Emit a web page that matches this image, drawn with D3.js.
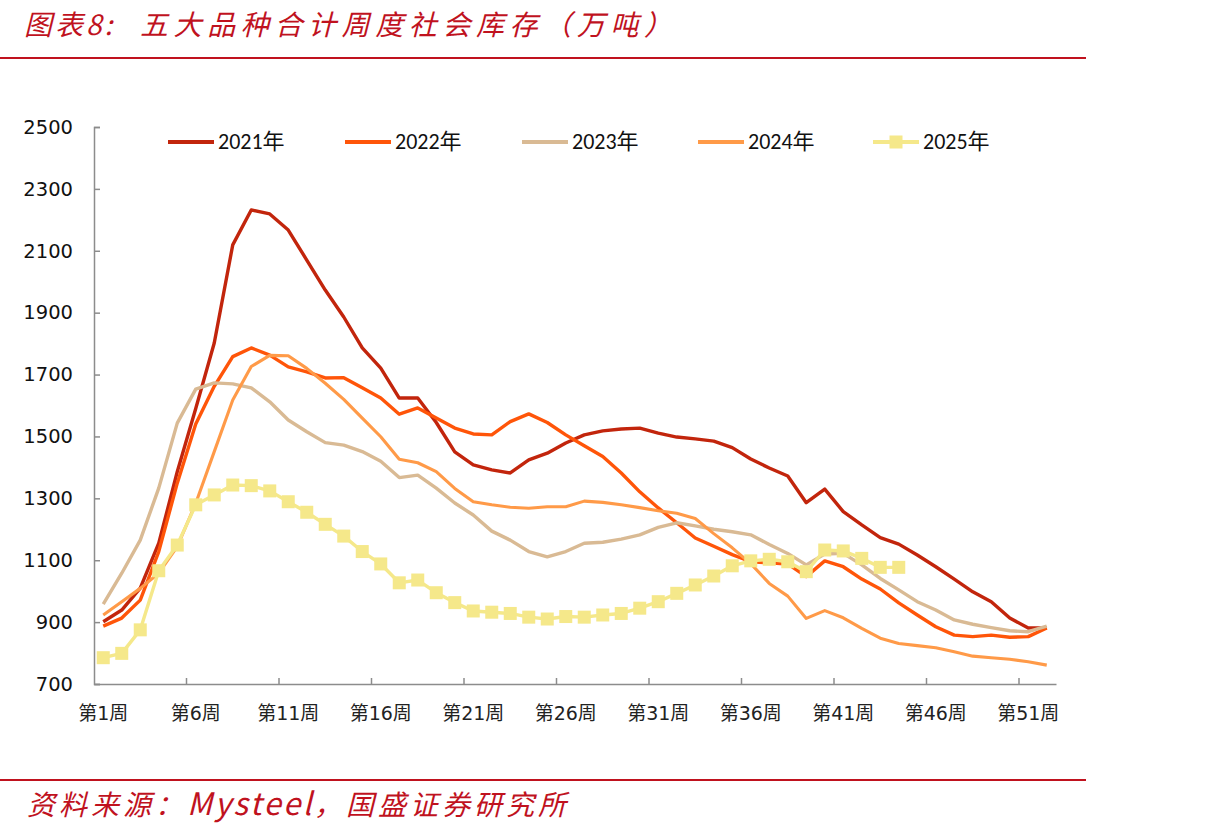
<!DOCTYPE html>
<html>
<head>
<meta charset="utf-8">
<script src="https://cdn.jsdelivr.net/npm/d3@7"></script>
<style>
  html, body { margin: 0; padding: 0; background: #fff; }
  svg { display: block; }
</style>
</head>
<body>
<svg id="chart" width="1205" height="835"></svg>
<script>
const weeks = [1,2,3,4,5,6,7,8,9,10,11,12,13,14,15,16,17,18,19,20,21,22,23,24,25,26,27,28,29,30,31,32,33,34,35,36,37,38,39,40,41,42,43,44,45,46,47,48,49,50,51,52];
const xTickWeeks = [1,6,11,16,21,26,31,36,41,46,51];
const xTickLabels = ["第1周","第6周","第11周","第16周","第21周","第26周","第31周","第36周","第41周","第46周","第51周"];
const yTicks = [700,900,1100,1300,1500,1700,1900,2100,2300,2500];
const seriesNames = ["2021年","2022年","2023年","2024年","2025年"];

const s2021 = [901,939,1010,1155,1386,1590,1802,2119,2232,2219,2167,2070,1973,1886,1786,1721,1624,1624,1545,1450,1408,1392,1382,1424,1446,1479,1505,1518,1524,1527,1511,1498,1492,1485,1464,1427,1398,1372,1286,1330,1257,1214,1173,1152,1117,1079,1039,998,966,913,881,881];
const s2022 = [887,913,971,1128,1349,1540,1662,1758,1786,1763,1725,1709,1689,1690,1657,1624,1572,1592,1560,1527,1508,1505,1548,1573,1545,1505,1470,1435,1382,1321,1269,1221,1172,1145,1118,1095,1092,1088,1047,1098,1079,1039,1007,962,923,885,858,853,858,851,853,881];
const s2023 = [958,1058,1165,1333,1543,1653,1673,1670,1657,1612,1553,1515,1480,1472,1451,1420,1367,1375,1333,1285,1246,1194,1165,1128,1111,1128,1155,1158,1168,1182,1206,1221,1211,1200,1192,1182,1151,1122,1085,1120,1122,1085,1041,1004,966,939,907,893,882,872,869,887];
const s2024 = [923,966,1009,1058,1144,1284,1451,1618,1726,1762,1761,1720,1672,1620,1559,1499,1426,1415,1386,1332,1289,1279,1271,1268,1273,1273,1291,1287,1279,1270,1260,1252,1235,1186,1140,1089,1025,984,912,937,914,880,848,831,824,817,804,790,785,780,772,761];
const s2025 = [785,799,875,1066,1149,1279,1311,1343,1341,1324,1289,1255,1216,1178,1128,1088,1027,1036,995,963,936,932,928,916,910,918,916,923,928,945,966,993,1020,1049,1082,1098,1103,1095,1063,1133,1130,1106,1077,1077];

const colors = ["#C2250C","#FF5509","#D9BA94","#FF9A48","#F5E88A"];
const allSeries = [s2021, s2022, s2023, s2024, s2025];

const svg = d3.select("#chart");
const red = "#C0121E";

// Title
const title = svg.append("text")
  .attr("y", 35)
  .attr("fill", red)
  .attr("font-family", "'Noto Sans CJK SC', sans-serif")
  .attr("font-style", "italic")
  .attr("font-size", 28);
title.append("tspan").attr("x", 24).attr("letter-spacing", 3).text("图表8:");
title.append("tspan").attr("x", 140).attr("letter-spacing", 5.6).text("五大品种合计周度社会库存（万吨）");

svg.append("rect").attr("x", 0).attr("y", 57).attr("width", 1086).attr("height", 2).attr("fill", red);
svg.append("rect").attr("x", 0).attr("y", 779).attr("width", 1086).attr("height", 2).attr("fill", red);

const src = svg.append("text")
  .attr("x", 27).attr("y", 815)
  .attr("fill", red)
  .attr("font-family", "'Noto Sans CJK SC', sans-serif")
  .attr("font-style", "italic")
  .attr("font-size", 28);
src.append("tspan").attr("letter-spacing", 4).text("资料来源：");
src.append("tspan").attr("font-size", 31).attr("letter-spacing", 2.5).text("Mysteel");
src.append("tspan").attr("letter-spacing", 4).text("，国盛证券研究所");

// Scales
const x = d3.scaleBand().domain(weeks).range([94, 1056]).paddingInner(0).paddingOuter(0);
const bw = x.bandwidth();
const y = d3.scaleLinear().domain([700, 2500]).range([684, 127]);
const cx = w => x(w) + bw / 2;

const axisColor = "#8c8c8c";

// Y axis
const yAxis = svg.append("g").attr("transform", "translate(94,0)")
  .call(d3.axisLeft(y).tickValues(yTicks).tickSize(-6).tickPadding(21).tickFormat(d3.format("d")));
yAxis.select(".domain").attr("stroke", axisColor).attr("stroke-width", 1.5);
yAxis.selectAll(".tick line").attr("stroke", axisColor).attr("stroke-width", 1.5);
yAxis.selectAll(".tick text")
  .attr("font-family", "'DejaVu Sans', Verdana, sans-serif")
  .attr("font-size", 19.5).attr("fill", "#111");

// X axis labels
const xAxis = svg.append("g").attr("transform", "translate(0,684)")
  .call(d3.axisBottom(x).tickValues(xTickWeeks).tickSize(0).tickPadding(23)
    .tickFormat((d, i) => xTickLabels[i]));
xAxis.select(".domain").attr("stroke", axisColor).attr("stroke-width", 1.5);
xAxis.selectAll(".tick text")
  .attr("font-family", "'DejaVu Sans', 'Noto Sans CJK SC', sans-serif")
  .attr("font-size", 19).attr("fill", "#222");

// X tick marks at category boundaries every 5 weeks (inward)
const boundaryWeeks = [6,11,16,21,26,31,36,41,46,51];
svg.append("g").selectAll("line").data(boundaryWeeks).join("line")
  .attr("x1", d => x(d)).attr("x2", d => x(d))
  .attr("y1", 684).attr("y2", 678)
  .attr("stroke", axisColor).attr("stroke-width", 1.5);

// Lines
const lineGen = d3.line().x((d, i) => cx(weeks[i])).y(d => y(d));
allSeries.forEach((s, k) => {
  svg.append("path")
    .datum(s)
    .attr("fill", "none")
    .attr("stroke", colors[k])
    .attr("stroke-width", k === 3 ? 3.1 : 3.4)
    .attr("stroke-linejoin", "round")
    .attr("d", lineGen);
});

// 2025 markers
svg.append("g").selectAll("rect").data(s2025).join("rect")
  .attr("x", (d, i) => cx(weeks[i]) - 6.5)
  .attr("y", d => y(d) - 6.5)
  .attr("width", 13).attr("height", 13)
  .attr("fill", colors[4]);

// Legend
const legendX = [168, 345, 522, 698, 873];
const lg = svg.append("g");
seriesNames.forEach((name, k) => {
  const gx = legendX[k];
  lg.append("line")
    .attr("x1", gx).attr("x2", gx + 46)
    .attr("y1", 142).attr("y2", 142)
    .attr("stroke", colors[k]).attr("stroke-width", 4);
  if (k === 4) {
    lg.append("rect").attr("x", gx + 23 - 6.5).attr("y", 142 - 6.5)
      .attr("width", 13).attr("height", 13).attr("fill", colors[k]);
  }
  lg.append("text")
    .attr("x", gx + 50).attr("y", 149)
    .attr("font-family", "Carlito, 'Liberation Sans Narrow', 'Open Sans', 'Noto Sans CJK SC', sans-serif")
    .attr("font-size", 22)
    .attr("fill", "#111")
    .text(name);
});
</script>
</body>
</html>
